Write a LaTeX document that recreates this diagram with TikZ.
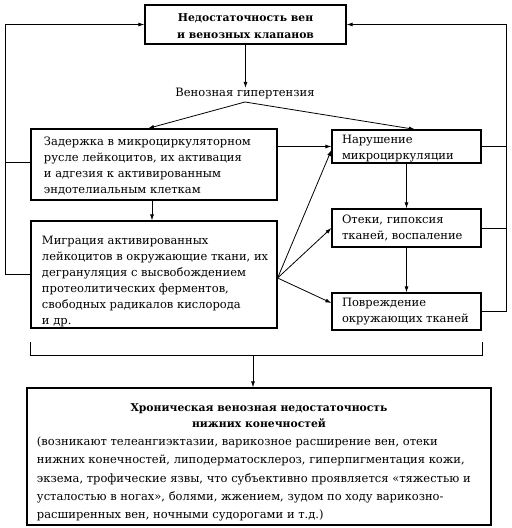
\documentclass[tikz,border=0pt]{standalone}
\usepackage{fontspec}
\setmainfont{DejaVu Serif}
\usetikzlibrary{arrows.meta,calc}
\newcommand\fsreg{\fontsize{11.5bp}{16bp}\selectfont}
\newcommand\fsbold{\fontsize{10.8bp}{17.5bp}\selectfont\bfseries}
\newcommand\lblock[3][0bp]{\raisebox{-#1}[\height][\depth]{\makebox[#2][l]{\begin{tabular}{@{}l@{}}#3\end{tabular}}}}
\begin{document}
\begin{tikzpicture}[x=1bp,y=-1bp,
  every node/.style={inner sep=0pt, text=black},
  box/.style={draw=black, line width=1.2bp, rectangle, inner sep=0pt},
  con/.style={line width=0.8bp},
  arr/.style={con, -{Latex[length=6bp,width=4bp]}}]
\useasboundingbox (0,0) rectangle (512,528);

\node[box, font=\fsbold, minimum width=201bp, minimum height=39bp] (top) at (245.5,24.5) {\raisebox{-2bp}[\height][\depth]{\begin{tabular}{@{}c@{}}Недостаточность вен\\и венозных клапанов\end{tabular}}};
\node[font=\fsreg] (vg) at (245,93.5) {Венозная гипертензия};
\coordinate (vgb) at (245,102);

\node[box, font=\fsreg, minimum width=246bp, minimum height=71bp] (zad) at (154,164.5) {\lblock[1.5bp]{220bp}{Задержка в микроциркуляторном\\русле лейкоцитов, их активация\\и адгезия к активированным\\эндотелиальным клеткам}};
\node[box, font=\fsreg, minimum width=246bp, minimum height=107bp] (mig) at (154,274.5) {\lblock[6.5bp]{224bp}{\fontsize{11.5bp}{16.3bp}\selectfont Миграция активированных\\лейкоцитов в окружающие ткани, их\\дегрануляция с высвобождением\\протеолитических ферментов,\\свободных радикалов кислорода\\и др.}};

\node[box, font=\fsreg, minimum width=149bp, minimum height=33bp] (nar) at (406.5,146.5) {\lblock[1.5bp]{129bp}{Нарушение\\микроциркуляции}};
\node[box, font=\fsreg, minimum width=149bp, minimum height=38bp] (ote) at (406.5,228) {\lblock{129bp}{Отеки, гипоксия\\тканей, воспаление}};
\node[box, font=\fsreg, minimum width=149bp, minimum height=37bp] (pov) at (406.5,311.5) {\lblock{129bp}{Повреждение\\окружающих тканей}};

\node[box, minimum width=464bp, minimum height=137bp] (hvn) at (259,456.5) {\raisebox{-5.5bp}[\height][\depth]{\fontsize{10.8bp}{16.5bp}\selectfont\begin{tabular}{@{}c@{}}\bfseries Хроническая венозная недостаточность\\\bfseries нижних конечностей\\\fontsize{11.5bp}{18.4bp}\selectfont\lblock{444bp}{(возникают телеангиэктазии, варикозное расширение вен, отеки\\нижних конечностей, липодерматосклероз, гиперпигментация кожи,\\экзема, трофические язвы, что субъективно проявляется «тяжестью и\\усталостью в ногах», болями, жжением, зудом по ходу варикозно-\\расширенных вен, ночными судорогами и т.д.)}\end{tabular}}};

\coordinate (lft) at (5,0);
\coordinate (rgt) at (506,0);
\coordinate (bl) at (30,342);
\coordinate (br) at (482,342);
\coordinate (bm) at (253,355);

\draw[arr] (top.south) -- (top.south |- vg.north);
\draw[arr] (vgb) -- ([xshift=-6bp]zad.north);
\draw[arr] (vgb) -- ([xshift=8.5bp]nar.north);
\draw[arr] (zad.east |- nar.west) -- (nar.west);
\draw[arr] ([xshift=-2bp]zad.south) -- ([xshift=-2bp]mig.north);
\coordinate (fan) at ([yshift=-3.5bp]mig.east);
\draw[arr] (fan) -- ([yshift=-3.5bp]nar.west);
\draw[arr] (fan) -- (ote.west);
\draw[arr] (fan) -- ([yshift=8.5bp]pov.west);
\draw[arr] (nar.south) -- (ote.north);
\draw[arr] (ote.south) -- (pov.north);

\draw[arr] (mig.west) -- (mig.west -| lft) |- (top.west);
\draw[con] ([yshift=2.5bp]zad.west) -- ([yshift=2.5bp]zad.west -| lft);
\draw[arr] (pov.east) -- (pov.east -| rgt) |- (top.east);
\draw[con] (nar.east) -- (nar.east -| rgt);
\draw[con] (ote.east) -- (ote.east -| rgt);

\draw[con] (bl) |- (br |- bm) -- (br);
\draw[arr] (bm) -- (bm |- hvn.north);
\end{tikzpicture}
\end{document}
